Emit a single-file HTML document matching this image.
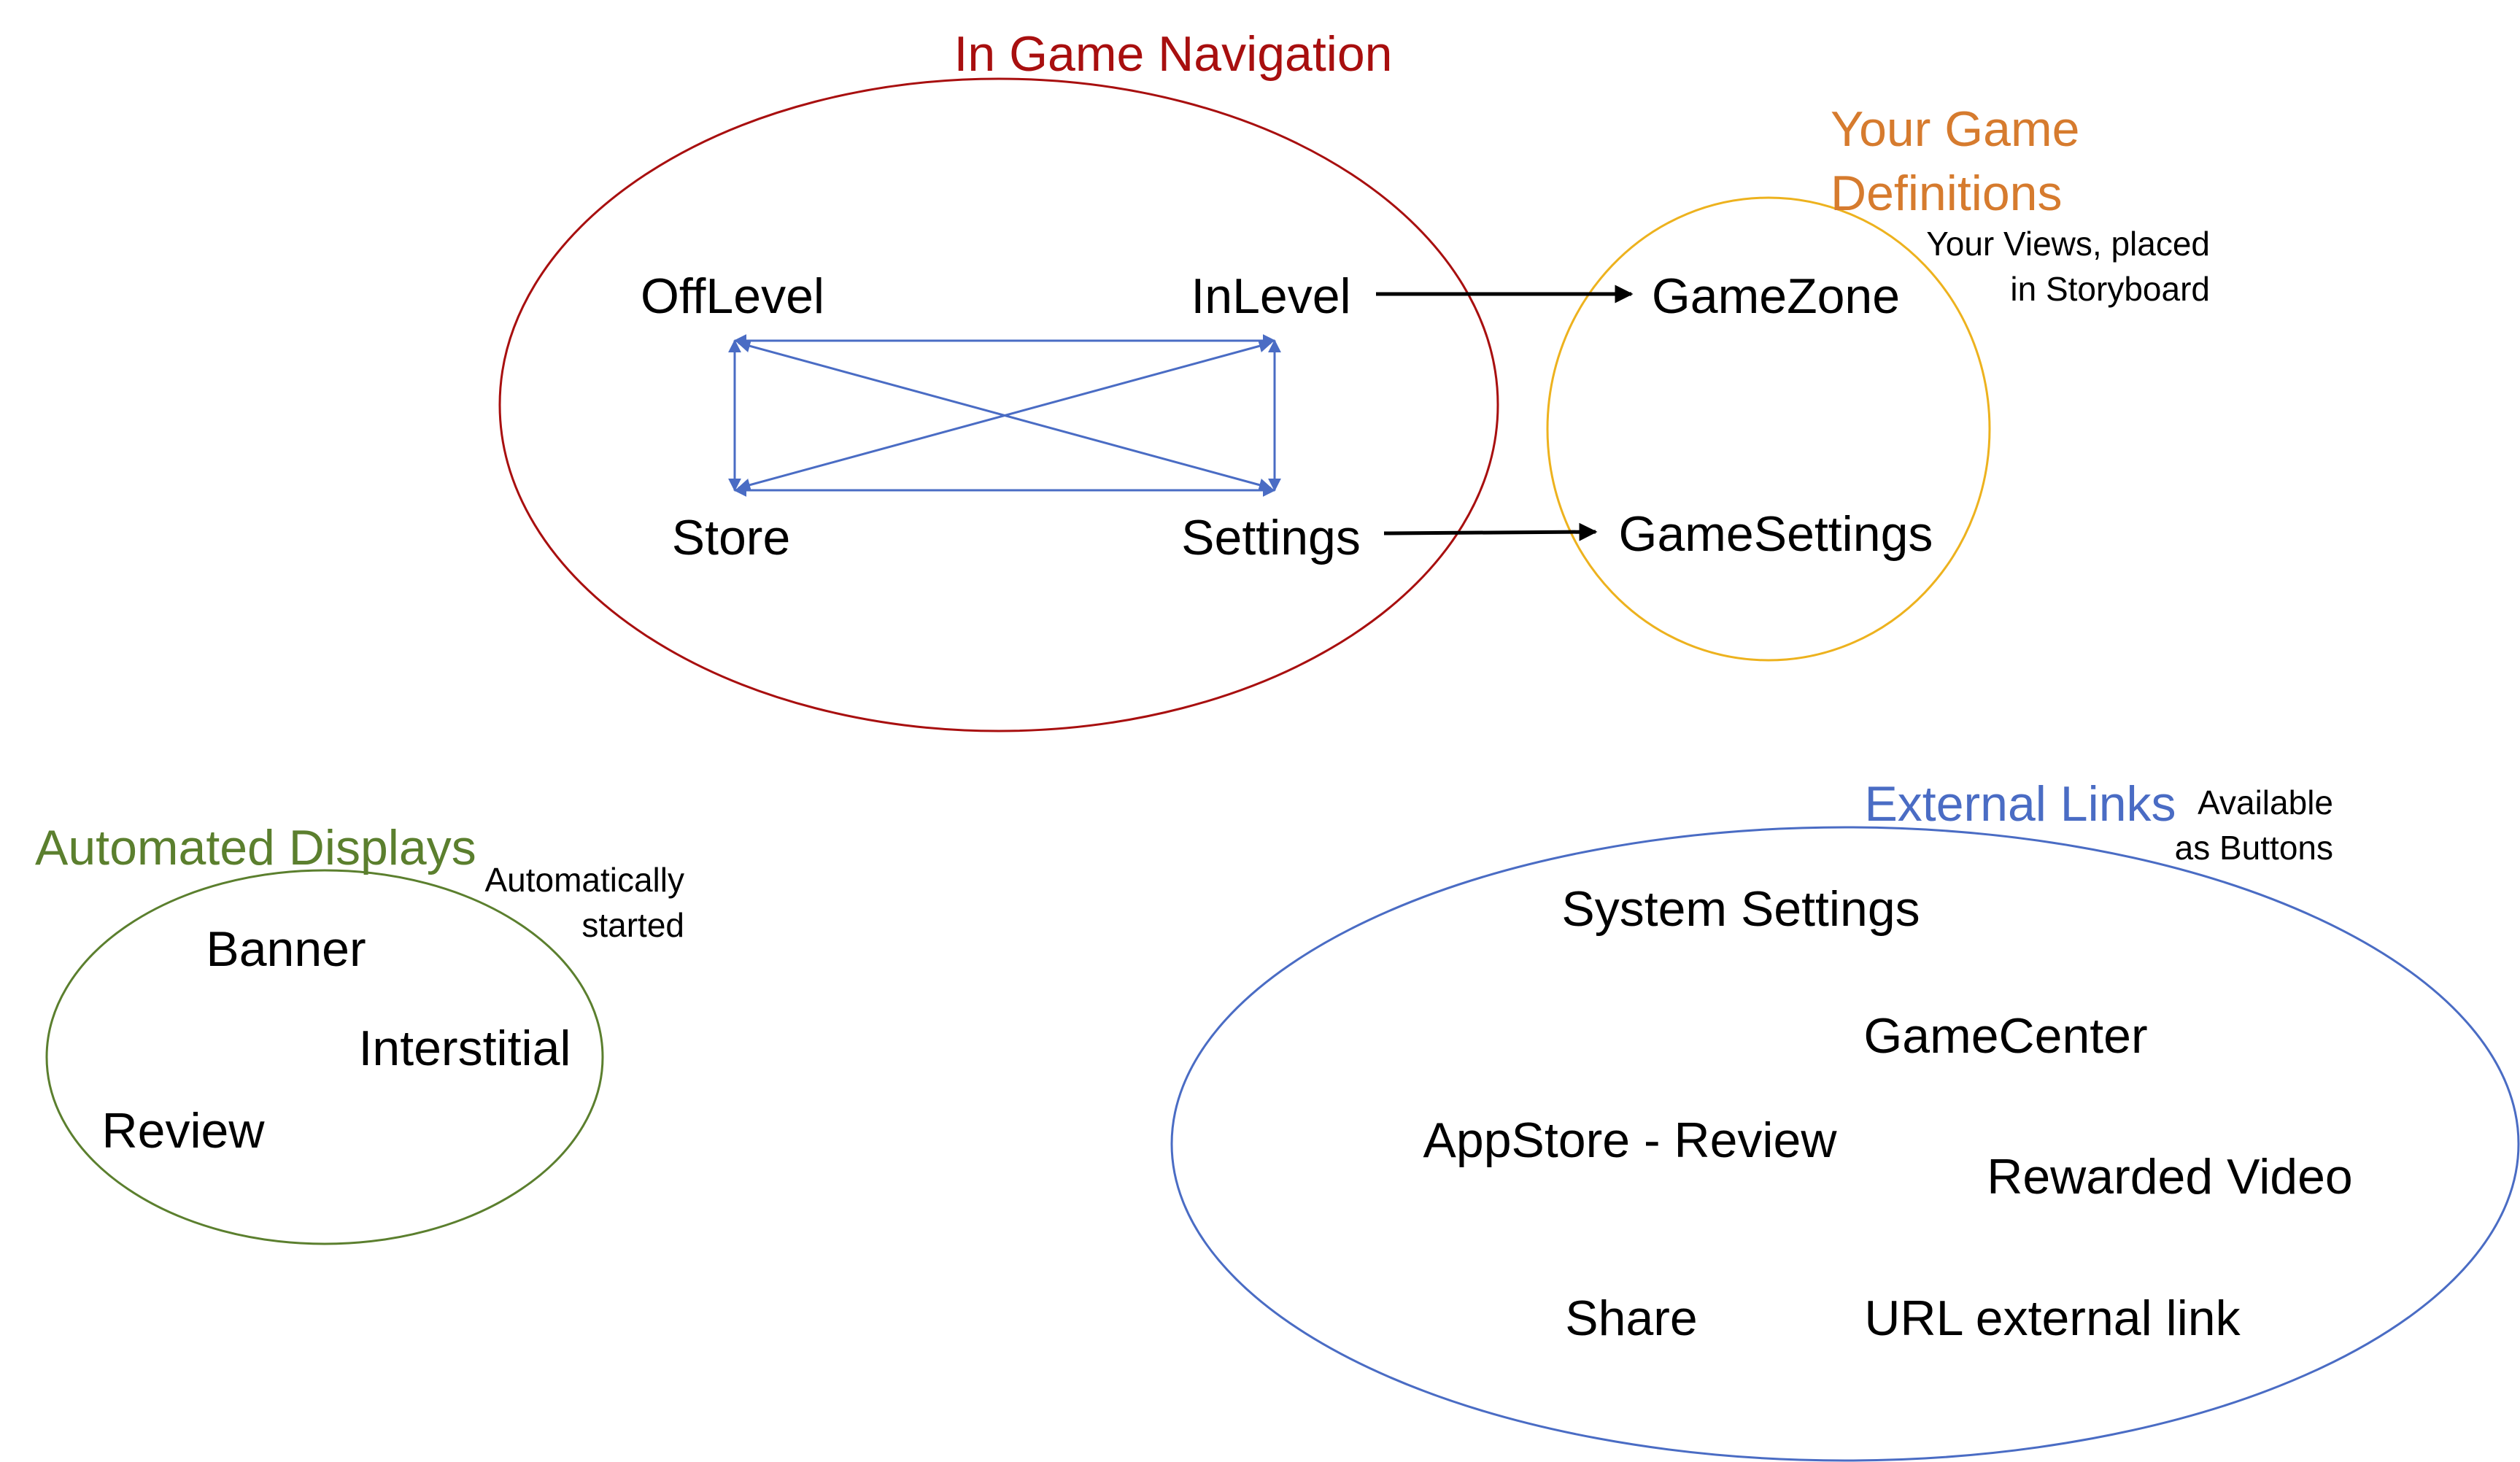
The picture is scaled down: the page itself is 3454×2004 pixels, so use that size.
<!DOCTYPE html>
<html><head><meta charset="utf-8"><style>
html,body{margin:0;padding:0;background:#fff;}
svg{display:block;}
text{font-family:"Liberation Sans",sans-serif;}
</style></head><body>
<svg width="3454" height="2004" viewBox="0 0 3454 2004" xmlns="http://www.w3.org/2000/svg">
<defs>
<marker id="bA" viewBox="0 0 10 10" refX="9" refY="5" markerWidth="6" markerHeight="6" orient="auto-start-reverse"><path d="M0,0 L10,5 L0,10 z" fill="#4A6CC4"/></marker>
<marker id="kA" viewBox="0 0 10 10" refX="9" refY="5" markerWidth="5" markerHeight="5" orient="auto"><path d="M0,0 L10,5 L0,10 z" fill="#000"/></marker>
</defs>
<ellipse cx="1369" cy="555" rx="684" ry="447" fill="none" stroke="#A80F0F" stroke-width="3"/>
<ellipse cx="2424" cy="588" rx="303" ry="317" fill="none" stroke="#EDB21E" stroke-width="3"/>
<ellipse cx="445" cy="1449" rx="381" ry="256" fill="none" stroke="#5B7F2E" stroke-width="3"/>
<ellipse cx="2529" cy="1568" rx="923" ry="434" fill="none" stroke="#4A6CC4" stroke-width="3"/>

<text x="1608" y="97" font-size="68" fill="#A80F0F" text-anchor="middle">In Game Navigation</text>
<text x="2509" y="200" font-size="68" fill="#D67B2E">Your Game</text>
<text x="2509" y="288" font-size="68" fill="#D67B2E">Definitions</text>
<text x="3029" y="350" font-size="46" fill="#000" text-anchor="end">Your Views, placed</text>
<text x="3029" y="412" font-size="46" fill="#000" text-anchor="end">in Storyboard</text>
<text x="48" y="1185" font-size="68" fill="#5B7F2E">Automated Displays</text>
<text x="938" y="1222" font-size="46" fill="#000" text-anchor="end">Automatically</text>
<text x="938" y="1284" font-size="46" fill="#000" text-anchor="end">started</text>
<text x="2769" y="1125" font-size="68" fill="#4A6CC4" text-anchor="middle">External Links</text>
<text x="3198" y="1116" font-size="46" fill="#000" text-anchor="end">Available</text>
<text x="3198" y="1178" font-size="46" fill="#000" text-anchor="end">as Buttons</text>

<g font-size="68" fill="#000" text-anchor="middle">
<text x="1004" y="429">OffLevel</text>
<text x="1742" y="429">InLevel</text>
<text x="1002" y="760">Store</text>
<text x="1742" y="760">Settings</text>
<text x="2434" y="429">GameZone</text>
<text x="2434" y="755">GameSettings</text>
<text x="392" y="1324">Banner</text>
<text x="637" y="1460">Interstitial</text>
<text x="251" y="1573">Review</text>
<text x="2386" y="1269">System Settings</text>
<text x="2749" y="1443">GameCenter</text>
<text x="2234" y="1586">AppStore - Review</text>
<text x="2974" y="1636">Rewarded Video</text>
<text x="2236" y="1830">Share</text>
<text x="2813" y="1830">URL external link</text>
</g>

<g stroke="#4A6CC4" stroke-width="3" fill="none" marker-start="url(#bA)" marker-end="url(#bA)">
<line x1="1007" y1="467" x2="1747" y2="467"/>
<line x1="1007" y1="672" x2="1747" y2="672"/>
<line x1="1007" y1="467" x2="1007" y2="672"/>
<line x1="1747" y1="467" x2="1747" y2="672"/>
<line x1="1012" y1="470" x2="1742" y2="669"/>
<line x1="1012" y1="669" x2="1742" y2="470"/>
</g>

<line x1="1886" y1="403" x2="2236" y2="403" stroke="#000" stroke-width="5" marker-end="url(#kA)"/>
<line x1="1897" y1="731" x2="2187" y2="729" stroke="#000" stroke-width="5" marker-end="url(#kA)"/>
</svg>
</body></html>
